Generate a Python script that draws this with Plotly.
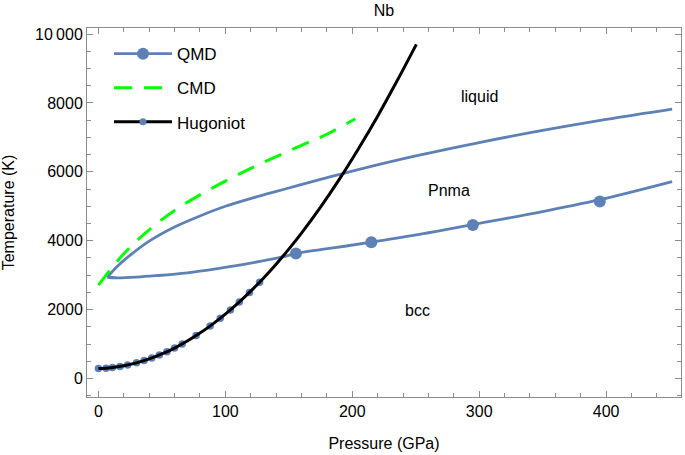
import plotly.graph_objects as go

# QMD liquid boundary (upper curve), pressure in GPa, temperature in K
melt_p = [7, 15, 25, 40, 60, 80, 100, 125, 150, 175, 200, 250, 300, 350, 400, 452]
melt_t = [2940, 3260, 3580, 3990, 4400, 4720, 5000, 5280, 5530, 5780, 6020, 6460,
          6850, 7200, 7520, 7820]

# QMD bcc / Pnma boundary (lower curve)
bcc_p = [7, 15, 30, 45, 70, 95, 120, 145, 155.6, 185, 215, 255, 295, 345, 395, 452]
bcc_t = [2940, 2925, 2945, 2985, 3070, 3200, 3350, 3530, 3630, 3790, 3960, 4200,
         4470, 4810, 5190, 5715]

# QMD data points
qmd_p = [155.6, 215, 295, 395]
qmd_t = [3630, 3955, 4455, 5140]

# CMD melt line
cmd_p = [0, 10, 20, 30, 42, 60, 80, 100, 120, 140, 160, 180, 202.4]
cmd_t = [2710, 3190, 3620, 3990, 4380, 4880, 5330, 5730, 6100, 6440, 6770, 7090, 7540]

# Hugoniot line
hug_p = [0, 10, 20, 30, 40, 50, 60, 70, 80, 90, 100, 110, 120, 130, 140, 150,
         160, 175, 190, 205, 220, 235, 250.5]
hug_t = [290, 316, 372, 456, 570, 714, 886, 1088, 1319, 1580, 1869, 2188, 2536,
         2914, 3320, 3757, 4222, 4975, 5794, 6678, 7615, 8620, 9700]

# Hugoniot data points
hpt_p = [0, 6, 11, 17, 23, 30, 36, 42, 48, 54, 60, 66, 77, 88, 96, 104, 111, 119, 127]
hpt_t = [290, 302, 320, 352, 394, 456, 521, 597, 683, 779, 886, 1004, 1247, 1525,
         1749, 1993, 2221, 2500, 2797]

# phase labels
phase_names = ["liquid", "Pnma", "bcc"]
phase_p = [300, 276, 251]
phase_t = [8180, 5470, 1985]

y_ticks = [0, 2000, 4000, 6000, 8000, 10000]
y_ticktext = ["0", "2000", "4000", "6000", "8000", "10\u2009000"]
x_ticks = [0, 100, 200, 300, 400]

BLUE = "#5e81b5"
GREEN = "#00ff00"
FRAME = "#8c8c8c"
FONT = "Liberation Sans, Arial, sans-serif"

fig = go.Figure()

fig.add_trace(go.Scatter(x=melt_p, y=melt_t, mode="lines",
                         line=dict(color=BLUE, width=2.8, shape="spline"), showlegend=False))
fig.add_trace(go.Scatter(x=bcc_p, y=bcc_t, mode="lines",
                         line=dict(color=BLUE, width=2.8, shape="spline"), showlegend=False))
fig.add_trace(go.Scatter(x=qmd_p, y=qmd_t, mode="markers",
                         marker=dict(color=BLUE, size=12), showlegend=False))
fig.add_trace(go.Scatter(x=cmd_p, y=cmd_t, mode="lines",
                         line=dict(color=GREEN, width=3, dash="18px,12px", shape="spline"),
                         showlegend=False))
fig.add_trace(go.Scatter(x=hpt_p, y=hpt_t, mode="markers",
                         marker=dict(color=BLUE, size=7.5), showlegend=False))
fig.add_trace(go.Scatter(x=hug_p, y=hug_t, mode="lines",
                         line=dict(color="black", width=3, shape="spline"), showlegend=False))

# legend entries
fig.add_trace(go.Scatter(x=[None], y=[None], mode="lines+markers", name="QMD", legendgroup="a",
                         line=dict(color=BLUE, width=2.8), marker=dict(color=BLUE, size=12)))
fig.add_trace(go.Scatter(x=[None], y=[None], mode="lines", name="CMD", legendgroup="b",
                         line=dict(color=GREEN, width=3, dash="18px,12px")))
fig.add_trace(go.Scatter(x=[None], y=[None], mode="lines+markers", name="Hugoniot", legendgroup="c",
                         line=dict(color="black", width=3), marker=dict(color=BLUE, size=7)))

for name, p, t in zip(phase_names, phase_p, phase_t):
    fig.add_annotation(x=p, y=t, text=name, showarrow=False,
                       font=dict(size=16, color="black", family=FONT))

axis_common = dict(showgrid=False, zeroline=False, showline=True, mirror="allticks",
                   linecolor=FRAME, linewidth=1, ticks="inside", ticklen=6,
                   tickcolor=FRAME, automargin=False,
                   tickfont=dict(size=16, color="black", family=FONT))

fig.update_xaxes(range=[-9, 459], tickvals=x_ticks,
                 minor=dict(dtick=20, ticks="inside", ticklen=4, tickcolor=FRAME),
                 title=dict(text="Pressure (GPa)", standoff=18,
                            font=dict(size=16, color="black", family=FONT)),
                 **axis_common)
fig.update_yaxes(range=[-535, 10174], tickvals=y_ticks, ticktext=y_ticktext,
                 minor=dict(dtick=500, ticks="inside", ticklen=4, tickcolor=FRAME),
                 title=dict(text="Temperature (K)", standoff=17,
                            font=dict(size=16, color="black", family=FONT)),
                 **axis_common)

fig.update_layout(
    width=685, height=455,
    margin=dict(l=87, r=4, t=28, b=58),
    paper_bgcolor="white", plot_bgcolor="white",
    font=dict(family=FONT, color="black"),
    title=dict(text="Nb", x=0.5, xref="paper", y=0.99, yanchor="top",
               font=dict(size=16, color="black", family=FONT)),
    legend=dict(x=0.037, y=0.978, xanchor="left", yanchor="top", bgcolor="rgba(0,0,0,0)",
                font=dict(size=17, color="black", family=FONT), itemwidth=58, tracegroupgap=9),
)

# the page body has a default 8px margin; drop it so the figure fills the window
fig.write_html("out.html", config={"displayModeBar": False},
               post_script="document.body.style.margin='0';")
